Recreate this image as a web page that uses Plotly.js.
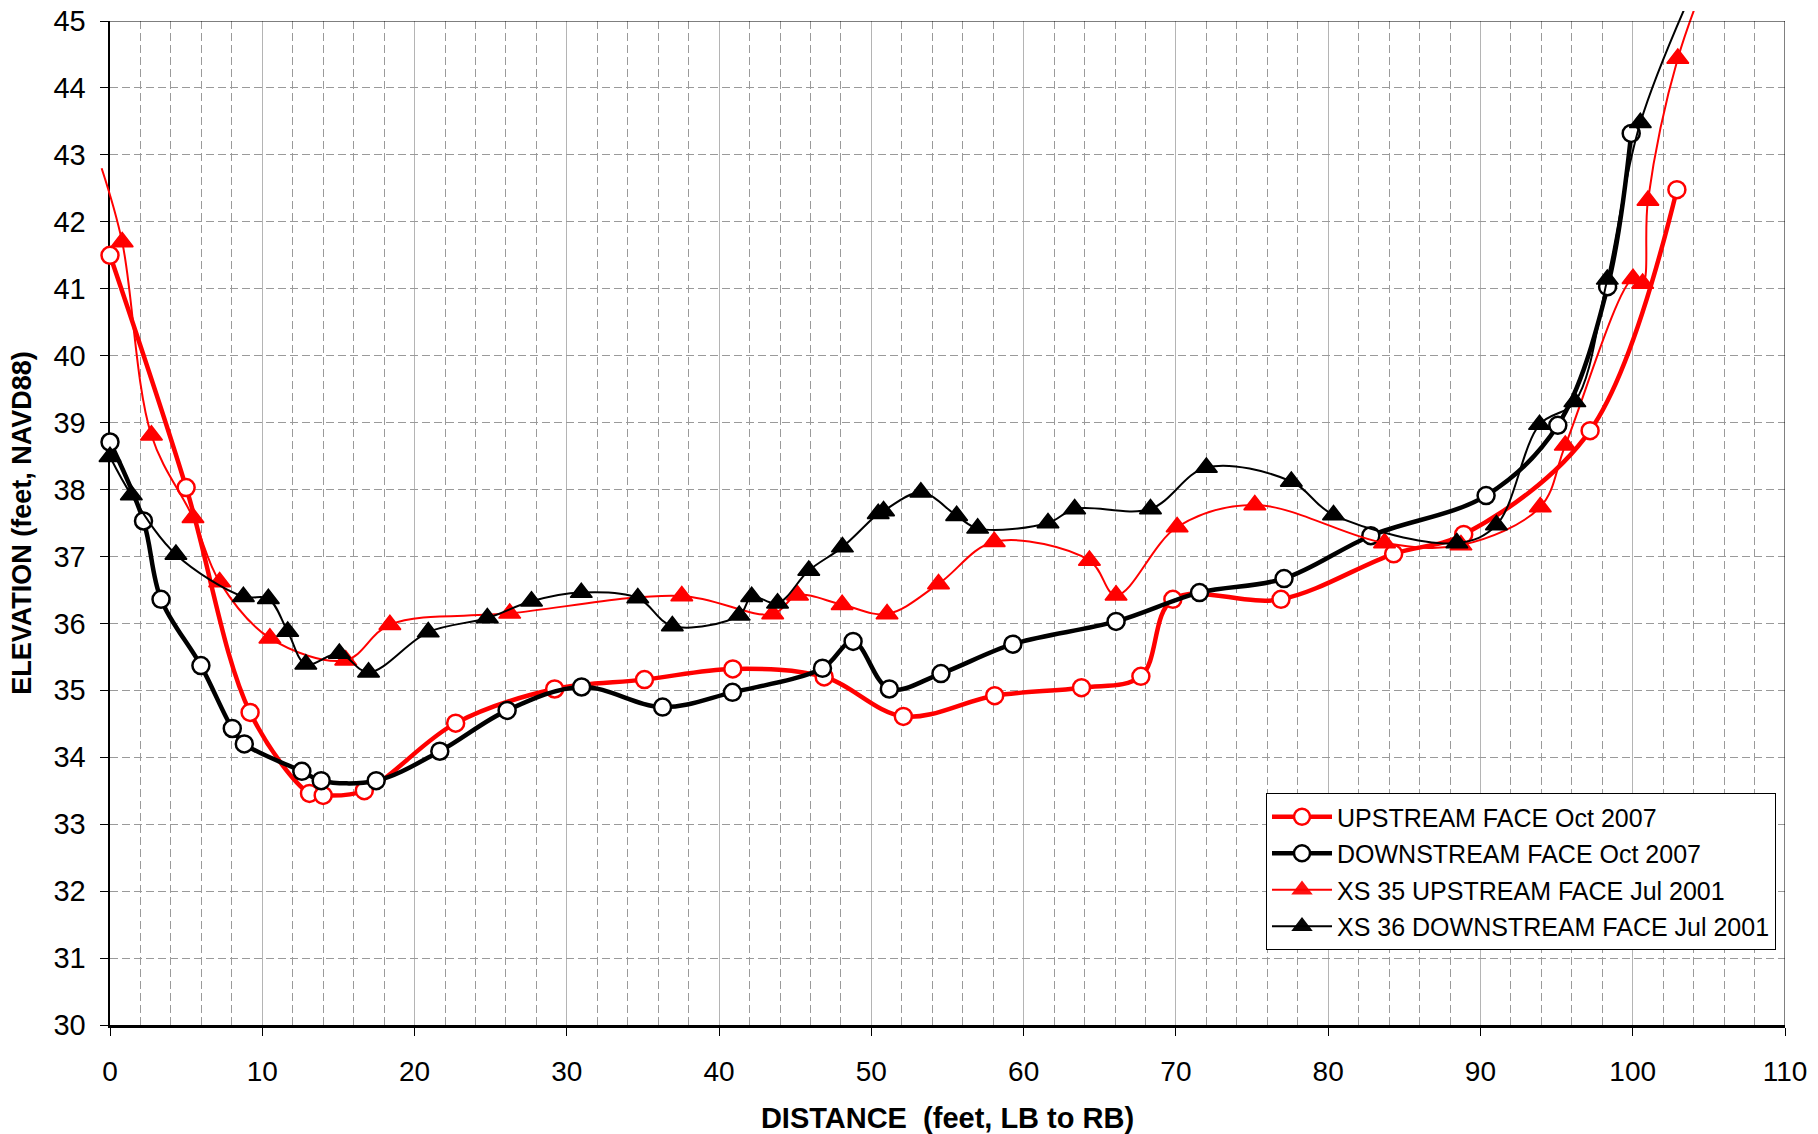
<!DOCTYPE html>
<html>
<head>
<meta charset="utf-8">
<script src="https://cdn.plot.ly/plotly-3.0.1.min.js"></script>
<style>html,body{margin:0;padding:0;background:#fff;}#chart{width:1818px;height:1134px;}</style>
</head>
<body>
<div id="chart"></div>
<script>
// ---- data ----
const seriesNames = [
  'UPSTREAM FACE Oct 2007',
  'DOWNSTREAM FACE Oct 2007',
  'XS 35 UPSTREAM FACE Jul 2001',
  'XS 36 DOWNSTREAM FACE Jul 2001'
];

const up2007X = [0, 5.0, 9.2, 13.1, 14.0, 16.7, 22.7, 29.2, 35.1, 40.9, 46.9, 52.1, 58.1, 63.8, 67.7, 69.8, 76.9, 84.3, 88.9, 97.2, 102.9];
const up2007Y = [41.5, 38.03, 34.67, 33.46, 33.43, 33.5, 34.51, 35.02, 35.16, 35.32, 35.2, 34.61, 34.92, 35.04, 35.21, 36.36, 36.36, 37.04, 37.33, 38.88, 42.48];

const dn2007X = [0, 2.2, 3.35, 5.97, 8.03, 8.82, 12.6, 13.87, 17.48, 21.66, 26.08, 30.97, 36.29, 40.88, 46.79, 48.8, 51.18, 54.57, 59.29, 66.07, 71.55, 77.1, 82.8, 90.37, 95.08, 98.35, 99.9];
const dn2007Y = [38.71, 37.53, 36.36, 35.37, 34.43, 34.2, 33.79, 33.65, 33.65, 34.09, 34.7, 35.05, 34.75, 34.97, 35.33, 35.73, 35.02, 35.25, 35.69, 36.03, 36.46, 36.67, 37.31, 37.91, 38.96, 41.03, 43.32];

const xs35X = [-0.55, 0.8, 2.72, 5.45, 7.2, 10.5, 15.48, 18.38, 26.25, 37.55, 43.52, 45.15, 48.08, 51.03, 54.41, 58.07, 64.32, 66.07, 70.08, 75.18, 83.7, 88.72, 93.93, 95.57, 100.02, 100.65, 101.0, 102.96, 106.0];
const xs35Y = [42.8, 41.7, 38.81, 37.58, 36.62, 35.78, 35.45, 35.98, 36.15, 36.41, 36.14, 36.42, 36.28, 36.14, 36.59, 37.22, 36.94, 36.42, 37.44, 37.77, 37.2, 37.17, 37.74, 38.66, 41.15, 41.08, 42.32, 44.44, 46.3];

const xs36X = [0, 1.4, 4.33, 8.76, 10.4, 11.67, 12.86, 15.06, 16.98, 20.9, 24.78, 27.68, 30.95, 34.66, 36.93, 41.32, 42.14, 43.84, 45.89, 48.1, 50.45, 50.8, 53.25, 55.6, 56.98, 61.6, 63.35, 68.33, 72.0, 77.58, 80.35, 88.45, 91.05, 93.88, 96.2, 98.33, 100.5, 105.0];
const xs36Y = [38.49, 37.92, 37.03, 36.4, 36.37, 35.88, 35.39, 35.55, 35.27, 35.87, 36.08, 36.33, 36.46, 36.38, 35.96, 36.12, 36.4, 36.3, 36.79, 37.14, 37.64, 37.68, 37.96, 37.61, 37.42, 37.5, 37.71, 37.71, 38.33, 38.12, 37.62, 37.2, 37.47, 38.97, 39.31, 41.14, 43.48, 46.0];

const xTickVals = [0, 10, 20, 30, 40, 50, 60, 70, 80, 90, 100, 110];
const yTickVals = [30, 31, 32, 33, 34, 35, 36, 37, 38, 39, 40, 41, 42, 43, 44, 45];

// ---- layout geometry ----
const W = 1818, H = 1134;
const XR = [0, 110], YR = [30, 45];
const PL = 110, PR = 1785, PT = 21, PB = 1025, CLIPTOP = 11;
const xPerPx = (XR[1] - XR[0]) / (PR - PL);
const yPerPx = (YR[1] - YR[0]) / (PB - PT);
// full-page data axes that map exactly like the visible axes (lets lines run past the frame, as in the original)
const x2Range = [XR[0] - PL * xPerPx, XR[1] + (W - PR) * xPerPx];
const y2Range = [YR[0] - (H - PB) * yPerPx, YR[1] + (PT - CLIPTOP) * yPerPx];

const FONT = 'Liberation Sans, Arial, Helvetica, sans-serif';
const RED = '#ff0000', BLACK = '#000000';

function inFrame(xs, ys) {
  return xs.map((x, i) => (x >= XR[0] && x <= XR[1] && ys[i] >= YR[0] && ys[i] <= YR[1]) ? 1 : 0);
}

function mk(name, xs, ys, color, width, symbol, group) {
  const isCircle = symbol === 'circle';
  return {
    type: 'scatter', mode: 'lines+markers', name: name,
    x: xs, y: ys, xaxis: 'x2', yaxis: 'y2',
    legendgroup: group,
    line: {color: color, width: width, shape: 'spline', smoothing: 1},
    marker: isCircle
      ? {symbol: 'circle', size: 17, color: '#ffffff', line: {color: color, width: 2.5}, opacity: inFrame(xs, ys)}
      : {symbol: 'triangle-up', size: 19, color: color, line: {color: color, width: 1.5}, opacity: inFrame(xs, ys)},
    hoverinfo: 'x+y+name'
  };
}

const traces = [
  mk(seriesNames[0], up2007X, up2007Y, RED, 4.5, 'circle', 'g1'),
  mk(seriesNames[1], dn2007X, dn2007Y, BLACK, 4.5, 'circle', 'g2'),
  mk(seriesNames[2], xs35X, xs35Y, RED, 2, 'triangle', 'g3'),
  mk(seriesNames[3], xs36X, xs36Y, BLACK, 2, 'triangle', 'g4')
];

const layout = {
  width: W, height: H, autosize: false,
  margin: {l: 0, r: 0, t: 0, b: 0, pad: 0},
  paper_bgcolor: '#ffffff', plot_bgcolor: 'rgba(0,0,0,0)',
  font: {family: FONT, color: '#000000', size: 28},
  showlegend: true,
  xaxis: {
    domain: [PL / W, PR / W], range: XR, anchor: 'y',
    tickmode: 'array', tickvals: xTickVals,
    ticks: 'outside', ticklen: 8, tickwidth: 1, tickcolor: '#000',
    tickfont: {family: FONT, size: 28, color: '#000'},
    ticklabelstandoff: 12,
    showline: true, linecolor: '#000', linewidth: 2.5, mirror: false,
    showgrid: true, gridcolor: '#b4b4b4', gridwidth: 1,
    minor: {dtick: 2, tick0: 0, showgrid: true, gridcolor: '#9a9a9a', gridwidth: 1, griddash: '8px,4px', ticks: ''},
    zeroline: false, fixedrange: true,
    title: {text: 'DISTANCE\u00a0 (feet, LB to RB)', font: {family: FONT, size: 29, weight: 700, color: '#000'}, standoff: 23}
  },
  yaxis: {
    domain: [1 - PB / H, 1 - PT / H], range: YR, anchor: 'x',
    tickmode: 'array', tickvals: yTickVals,
    ticks: 'outside', ticklen: 8, tickwidth: 1, tickcolor: '#000',
    tickfont: {family: FONT, size: 29, color: '#000'},
    ticklabelstandoff: 8,
    showline: true, linecolor: '#000', linewidth: 2.5, mirror: false,
    showgrid: true, gridcolor: '#9a9a9a', gridwidth: 1, griddash: '8px,4px',
    zeroline: false, fixedrange: true,
    title: {text: 'ELEVATION (feet, NAVD88)', font: {family: FONT, size: 27, weight: 700, color: '#000'}, standoff: 14}
  },
  xaxis2: {domain: [0, 1], range: x2Range, anchor: 'y2', visible: false, fixedrange: true},
  yaxis2: {domain: [0, 1 - CLIPTOP / H], range: y2Range, anchor: 'x2', visible: false, fixedrange: true},
  shapes: [
    {type: 'line', xref: 'x', yref: 'y', x0: XR[0], x1: XR[1], y0: YR[1], y1: YR[1], line: {color: '#000', width: 1}, layer: 'above'},
    {type: 'line', xref: 'x', yref: 'y', x0: XR[1], x1: XR[1], y0: YR[0], y1: YR[1], line: {color: '#000', width: 1}, layer: 'above'}
  ],
  legend: {
    x: 1266 / W, y: 1 - 793 / H, xanchor: 'left', yanchor: 'top',
    bgcolor: '#ffffff', bordercolor: '#000', borderwidth: 1,
    font: {family: FONT, size: 25, color: '#000'},
    traceorder: 'grouped', tracegroupgap: 1, itemwidth: 60
  }
};

Plotly.newPlot('chart', traces, layout, {staticPlot: true, displayModeBar: false});
</script>
</body>
</html>
